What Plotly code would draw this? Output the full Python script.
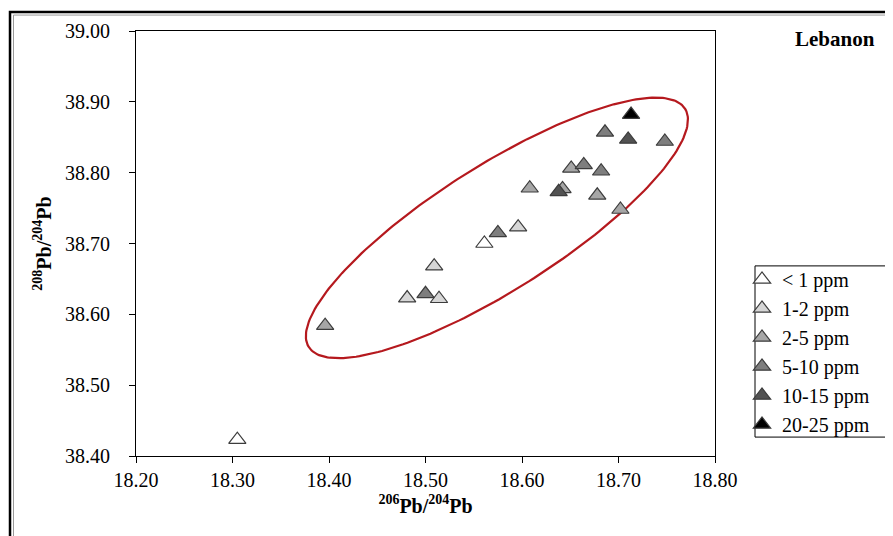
import numpy as np
import plotly.graph_objects as go

# ---- data ----
categories = ["< 1 ppm", "1-2 ppm", "2-5 ppm", "5-10 ppm", "10-15 ppm", "20-25 ppm"]

x_lt1 = [18.305, 18.561]
y_lt1 = [38.423, 38.700]

x_1_2 = [18.481, 18.514, 18.509, 18.596]
y_1_2 = [38.623, 38.622, 38.668, 38.723]

x_2_5 = [18.396, 18.608, 18.642, 18.651, 18.678, 18.702]
y_2_5 = [38.584, 38.778, 38.777, 38.806, 38.768, 38.748]

x_5_10 = [18.500, 18.575, 18.664, 18.682, 18.686, 18.748]
y_5_10 = [38.629, 38.715, 38.811, 38.802, 38.857, 38.844]

x_10_15 = [18.638, 18.710]
y_10_15 = [38.773, 38.847]

x_20_25 = [18.713]
y_20_25 = [38.882]

x_ticks = [18.20, 18.30, 18.40, 18.50, 18.60, 18.70, 18.80]
y_ticks = [38.40, 38.50, 38.60, 38.70, 38.80, 38.90, 39.00]

series_x = [x_lt1, x_1_2, x_2_5, x_5_10, x_10_15, x_20_25]
series_y = [y_lt1, y_1_2, y_2_5, y_5_10, y_10_15, y_20_25]
fills = ["#ffffff", "#d6d6d6", "#a6a6a6", "#7e7e7e", "#525252", "#000000"]

# ---- layout geometry (page has an 8px body margin) ----
OFF = 8
W, H = 893 - OFF, 536 - OFF
ML, MT = 136 - OFF, 29 - OFF
PW, PH = 579, 427
MR = W - ML - PW
MB = H - MT - PH
XR = [18.2, 18.8]
YR = [38.4, 39.0]
sx = PW / (XR[1] - XR[0])
sy = PH / (YR[1] - YR[0])

FONT = "Liberation Serif"

def px2paper_x(px):  # screen pixel -> paper coordinate
    return (px - OFF - ML) / PW

def px2paper_y(py):
    return (MT + PH - (py - OFF)) / PH

fig = go.Figure()

# grouping ellipse (outline only)
ecx, ecy = 18.574, 38.722
ea, eb, eang = 223.0, 62.5, np.deg2rad(32.5)
t = np.linspace(0, 2 * np.pi, 240)
ex = ecx + (ea * np.cos(t) * np.cos(eang) - eb * np.sin(t) * np.sin(eang)) / sx
ey = ecy + (ea * np.cos(t) * np.sin(eang) + eb * np.sin(t) * np.cos(eang)) / sy
fig.add_trace(go.Scatter(x=ex, y=ey, mode="lines", line=dict(color="#b5191e", width=2.2),
                         showlegend=False, hoverinfo="skip"))

for name, xs, ys, fc in zip(categories, series_x, series_y, fills):
    fig.add_trace(go.Scatter(
        x=xs, y=ys, mode="markers", name=name,
        marker=dict(symbol="triangle-up", size=15, color=fc,
                    line=dict(color="#3c3c3c", width=1.2)),
    ))

axis_common = dict(
    showgrid=False, zeroline=False, showline=True, linecolor="#000000", linewidth=1,
    mirror=True, ticks="outside", ticklen=6, tickcolor="#000000",
    tickfont=dict(family=FONT, size=20, color="#000000"),
)

fig.update_xaxes(range=XR, tickvals=x_ticks, ticktext=[f"{v:.2f}" for v in x_ticks],
                 title=dict(text="<b><sup>206</sup>Pb/<sup>204</sup>Pb</b>",
                            font=dict(family=FONT, size=20, color="#000000"), standoff=8),
                 **axis_common)
fig.update_yaxes(range=YR, tickvals=y_ticks, ticktext=[f"{v:.2f}" for v in y_ticks],
                 ticklabelstandoff=15,
                 title=dict(text="<b><sup>208</sup>Pb/<sup>204</sup>Pb</b>",
                            font=dict(family=FONT, size=20, color="#000000"), standoff=8),
                 **axis_common)

fig.update_layout(
    width=W, height=H,
    margin=dict(l=ML, r=MR, t=MT, b=MB),
    paper_bgcolor="#ffffff", plot_bgcolor="#ffffff",
    legend=dict(
        x=px2paper_x(742), y=px2paper_y(259), xanchor="left", yanchor="top",
        borderwidth=0, bgcolor="rgba(0,0,0,0)",
        font=dict(family=FONT, size=20, color="#000000"),
        itemwidth=30,
    ),
    annotations=[dict(
        text="<b>Lebanon</b>", xref="paper", yref="paper",
        x=px2paper_x(835), y=px2paper_y(37), xanchor="center", yanchor="middle",
        showarrow=False, font=dict(family=FONT, size=21, color="#000000"),
    )],
    shapes=[
        # legend box
        dict(type="rect", xref="paper", yref="paper", layer="above",
             x0=px2paper_x(755), x1=px2paper_x(890), y0=px2paper_y(265), y1=px2paper_y(437),
             line=dict(color="#000000", width=1), fillcolor="rgba(0,0,0,0)"),
        # outer frame
        dict(type="rect", xref="paper", yref="paper", layer="above",
             x0=px2paper_x(10), x1=px2paper_x(905), y0=px2paper_y(10), y1=px2paper_y(550),
             line=dict(color="#000000", width=2.5), fillcolor="rgba(0,0,0,0)"),
        dict(type="rect", xref="paper", yref="paper", layer="above",
             x0=px2paper_x(13.5), x1=px2paper_x(905), y0=px2paper_y(13), y1=px2paper_y(550),
             line=dict(color="#9a9a9a", width=1), fillcolor="rgba(0,0,0,0)"),
    ],
    showlegend=True,
)

fig.write_html("out.html")
